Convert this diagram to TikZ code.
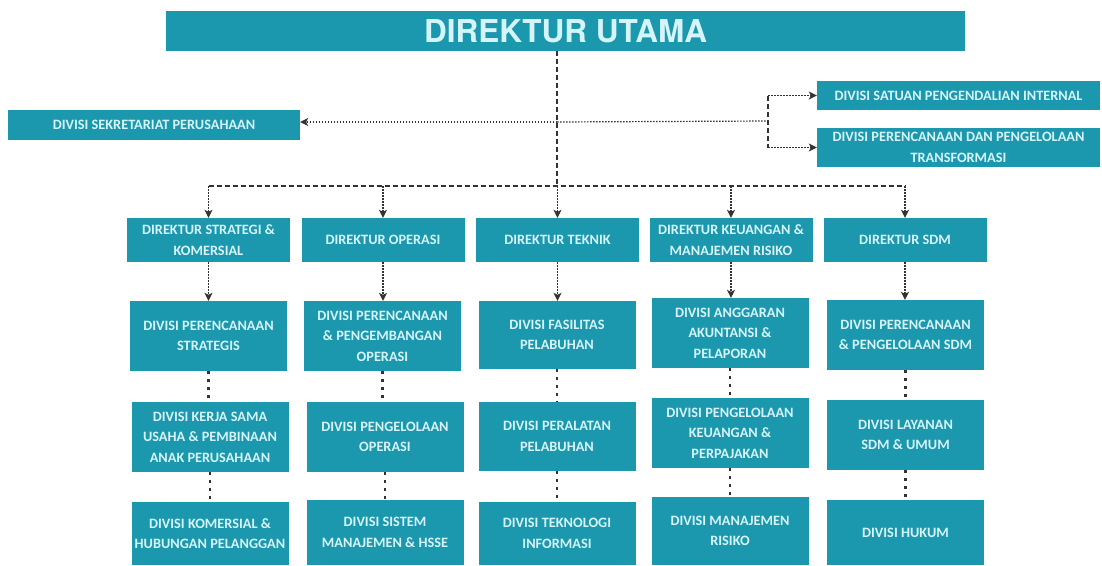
\documentclass[tikz,border=0pt]{standalone}
\usepackage{fontspec}
\setmainfont{Carlito}
\newfontfamily\titlefont{TeX Gyre Heros}
\usetikzlibrary{arrows.meta}
\definecolor{tealbox}{HTML}{1B97AE}
\definecolor{txtc}{HTML}{D6F5FA}
\definecolor{lnc}{HTML}{333333}
\tikzset{
  orgbox/.style={fill=tealbox, text=txtc, font=\bfseries\fontsize{14.3}{20.5}\selectfont, align=center, inner sep=0pt},
  trunk/.style={draw=lnc, line width=1.8pt, dash pattern=on 5pt off 3pt},
  branch/.style={draw=lnc, line width=1.2pt, dash pattern=on 1.5pt off 1.5pt},
  rowlink/.style={draw=lnc, line width=2.6pt, dash pattern=on 2.6pt off 5.4pt},
  tip/.style={-{Stealth[length=8pt,width=8pt,inset=2pt]}}
}
\newcommand\obox[6]{\node[orgbox, minimum width=#4pt, minimum height=#5pt] (#1) at (#2,#3) {#6};}
\begin{document}
\begin{tikzpicture}[x=1pt,y=-1pt]
\useasboundingbox (0,0) rectangle (1102,565);
% top level
\node[orgbox, font=\titlefont\bfseries\fontsize{31.5}{34}\selectfont, minimum width=799pt, minimum height=40pt] (top) at (565.5,31) {DIREKTUR UTAMA};
\obox{sek}{154}{125}{292}{30}{DIVISI SEKRETARIAT PERUSAHAAN}
\obox{spi}{958.5}{95.5}{283}{29}{DIVISI SATUAN PENGENDALIAN INTERNAL}
\obox{ppt}{958.5}{147.5}{283}{39}{DIVISI PERENCANAAN DAN PENGELOLAAN\\TRANSFORMASI}
% directors
\obox{d1}{208.5}{240}{163}{44}{DIREKTUR STRATEGI \&\\KOMERSIAL}
\obox{d2}{383}{240}{163}{44}{DIREKTUR OPERASI}
\obox{d3}{557.5}{240}{163}{44}{DIREKTUR TEKNIK}
\obox{d4}{731}{240}{163}{44}{DIREKTUR KEUANGAN \&\\MANAJEMEN RISIKO}
\obox{d5}{905}{240}{163}{44}{DIREKTUR SDM}
% row 2
\obox{a1}{208.5}{336}{157}{70}{DIVISI PERENCANAAN\\STRATEGIS}
\obox{a2}{382.5}{336}{157}{70}{DIVISI PERENCANAAN\\\& PENGEMBANGAN\\OPERASI}
\obox{a3}{557}{335}{157}{68}{DIVISI FASILITAS\\PELABUHAN}
\obox{a4}{730}{333}{157}{70}{DIVISI ANGGARAN\\AKUNTANSI \&\\PELAPORAN}
\obox{a5}{905.5}{335}{157}{70}{DIVISI PERENCANAAN\\\& PENGELOLAAN SDM}
% row 3
\obox{b1}{210}{437}{157}{70}{DIVISI KERJA SAMA\\USAHA \& PEMBINAAN\\ANAK PERUSAHAAN}
\obox{b2}{385}{437}{157}{70}{DIVISI PENGELOLAAN\\OPERASI}
\obox{b3}{557}{436.5}{157}{69}{DIVISI PERALATAN\\PELABUHAN}
\obox{b4}{730}{433}{157}{70}{DIVISI PENGELOLAAN\\KEUANGAN \&\\PERPAJAKAN}
\obox{b5}{905.5}{435}{157}{70}{DIVISI LAYANAN\\SDM \& UMUM}
% row 4
\obox{c1}{210}{533.5}{157}{63}{DIVISI KOMERSIAL \&\\HUBUNGAN PELANGGAN}
\obox{c2}{385}{532.5}{157}{65}{DIVISI SISTEM\\MANAJEMEN \& HSSE}
\obox{c3}{557}{533.5}{157}{63}{DIVISI TEKNOLOGI\\INFORMASI}
\obox{c4}{730}{531}{157}{68}{DIVISI MANAJEMEN\\RISIKO}
\obox{c5}{905.5}{532.5}{157}{65}{DIVISI HUKUM}
% junctions
\coordinate (j1) at (557,122);
\coordinate (j2) at (557,186);
\coordinate (br) at (768,121);
\coordinate (brt) at (768,95.5);
\coordinate (brb) at (768,147.5);
\coordinate (bl) at (208.5,186);
\coordinate (brr) at (905,186);
% trunk and branches
\draw[trunk] (top.south -| j1) -- (j2);
\draw[trunk] (bl) -- (brr);
\draw[branch, tip] (j1) -- (j1 -| sek.east);
\draw[branch] (j1) -- (br);
\draw[trunk, line width=1.5pt] (brt) -- (brb);
\draw[branch, tip] (brt) -- (spi.west);
\draw[branch, tip] (brb) -- (ppt.west);
% bus to directors
\foreach \d in {d1,d2,d3,d4,d5}{
  \draw[branch, tip] (\d.north |- j2) -- (\d.north);
}
% director to first division
\foreach \d/\a in {d1/a1,d2/a2,d3/a3,d4/a4,d5/a5}{
  \draw[branch, tip] (\d.south) -- (\d.south |- \a.north);
}
% division chains
\foreach \a/\b in {a1/b1,a2/b2,a3/b3,a4/b4,a5/b5,b1/c1,b2/c2,b3/c3,b4/c4,b5/c5}{
  \draw[rowlink] (\a.south) -- (\a.south |- \b.north);
}
\end{tikzpicture}
\end{document}
